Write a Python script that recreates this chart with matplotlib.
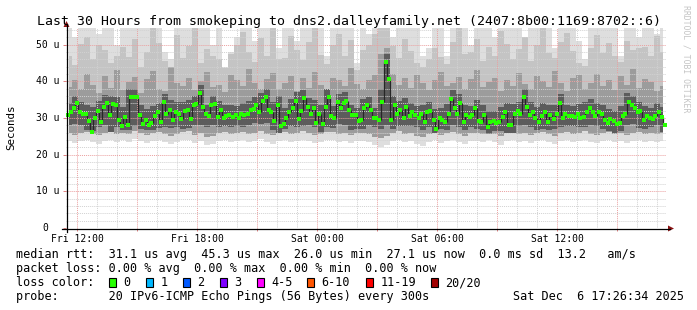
"""SmokePing: Last 30 Hours to dns2.dalleyfamily.net"""
import numpy as np
import matplotlib.pyplot as plt
from matplotlib.lines import Line2D
from matplotlib.patches import Rectangle, Polygon

W, H = 697, 310
MONO = 'DejaVu Sans Mono'

# median rtt (u), one value per 9 minutes
median_rtt = [
    30.8, 31.5, 32.6, 34.0, 31.5, 31.2, 31.0, 29.2, 26.1, 29.9,
    31.9, 29.0, 33.0, 34.0, 30.8, 33.7, 33.4, 29.5, 27.7, 30.3,
    28.1, 35.6, 35.8, 35.6, 30.8, 28.3, 29.5, 28.1, 28.6, 30.6,
    31.5, 29.0, 34.3, 31.0, 32.2, 29.5, 31.5, 31.2, 29.7, 31.9,
    32.2, 29.7, 33.5, 33.7, 36.8, 33.0, 31.0, 30.6, 33.5, 33.7,
    30.3, 32.2, 29.9, 30.6, 30.8, 30.3, 30.8, 29.9, 31.2, 30.8,
    31.2, 32.2, 32.4, 33.4, 31.5, 34.5, 35.6, 32.2, 31.5, 29.2,
    33.5, 27.9, 28.3, 29.9, 31.5, 32.8, 34.7, 29.7, 31.9, 35.4,
    33.0, 31.2, 32.8, 28.6, 31.0, 28.3, 33.0, 35.8, 30.6, 29.9,
    34.3, 32.6, 34.0, 34.7, 32.2, 30.8, 30.8, 29.2, 29.5, 32.8,
    33.4, 32.2, 29.9, 29.9, 29.4, 34.3, 45.3, 40.6, 29.4, 33.5,
    31.0, 32.2, 30.1, 33.0, 30.6, 31.5, 30.8, 30.1, 31.1, 29.0,
    31.7, 31.9, 29.4, 27.0, 29.9, 29.4, 29.0, 31.2, 35.2, 32.6,
    31.0, 34.0, 28.8, 30.8, 30.3, 30.8, 32.6, 29.2, 28.8, 30.8,
    27.6, 28.8, 29.2, 28.6, 28.8, 30.3, 31.5, 28.1, 28.1, 31.2,
    31.9, 31.0, 35.8, 33.0, 30.8, 31.7, 30.1, 28.8, 30.6, 31.5,
    29.0, 30.8, 29.7, 31.0, 34.0, 29.9, 31.0, 30.6, 30.6, 30.3,
    31.2, 29.9, 30.3, 31.7, 32.8, 31.5, 30.6, 31.5, 31.0, 29.4,
    28.6, 29.7, 29.2, 28.3, 28.6, 30.6, 31.0, 34.3, 33.5, 32.8,
    31.5, 31.9, 29.4, 30.6, 30.1, 29.7, 30.6, 31.5, 30.3, 28.1,
]

# smoke bands, one value per 18 minutes
smoke_lo = [
    23.6, 23.2, 23.8, 24.0, 23.4, 23.0, 23.7, 24.1, 23.5, 23.9,
    23.3, 24.2, 23.8, 23.1, 23.6, 24.0, 23.4, 22.8, 23.5, 23.9,
    24.1, 23.2, 23.7, 22.6, 22.9, 23.8, 24.0, 23.3, 23.6, 23.9,
    23.4, 23.8, 24.2, 23.5, 23.0, 23.7, 23.9, 23.3, 23.6, 24.1,
    23.8, 23.2, 23.5, 23.9, 24.0, 23.4, 23.7, 23.1, 23.6, 23.8,
    23.3, 22.5, 22.2, 22.5, 23.6, 24.1, 23.4, 23.8, 23.0, 22.4,
    23.5, 23.9, 23.2, 23.7, 24.0, 23.4, 22.9, 23.6, 23.8, 23.3,
    23.9, 23.5, 22.7, 23.6, 24.0, 23.4, 23.8, 23.2, 23.7, 23.9,
    23.5, 23.0, 23.6, 23.9, 23.3, 23.8, 24.1, 23.5, 23.2, 23.7,
    23.9, 23.4, 23.8, 23.1, 23.6, 24.0, 23.5, 23.8, 23.3, 23.7,
]
smoke_lo2 = [
    25.8, 25.4, 26.0, 26.2, 25.6, 25.3, 25.9, 26.3, 25.7, 26.0,
    25.5, 26.4, 26.0, 25.4, 25.8, 26.1, 25.6, 25.1, 25.7, 26.1,
    26.3, 25.4, 25.9, 24.9, 25.2, 26.0, 26.2, 25.5, 25.8, 26.1,
    25.6, 26.0, 26.4, 25.7, 25.3, 25.9, 26.1, 25.5, 25.8, 26.3,
    26.0, 25.4, 25.7, 26.1, 26.2, 25.6, 25.9, 25.3, 25.8, 26.0,
    25.5, 24.8, 24.6, 25.0, 25.8, 26.3, 25.6, 26.0, 25.2, 24.8,
    25.7, 26.1, 25.4, 25.9, 26.2, 25.6, 25.1, 25.8, 26.0, 25.5,
    26.1, 25.7, 25.0, 25.8, 26.2, 25.6, 26.0, 25.4, 25.9, 26.1,
    25.7, 25.2, 25.8, 26.1, 25.5, 26.0, 26.3, 25.7, 25.4, 25.9,
    26.1, 25.6, 26.0, 25.3, 25.8, 26.2, 25.7, 26.0, 25.5, 25.9,
]
smoke_core_lo = [
    28.0, 28.4, 28.2, 26.8, 26.4, 27.6, 28.0, 26.2, 27.4, 26.8,
    26.6, 27.8, 27.0, 26.8, 26.6, 27.2, 27.4, 27.2, 27.6, 27.0,
    27.2, 28.2, 28.0, 27.4, 28.2, 27.6, 27.8, 27.6, 27.8, 27.4,
    28.0, 28.6, 28.4, 28.6, 26.6, 25.8, 27.0, 27.8, 27.4, 27.8,
    28.0, 27.4, 26.2, 27.6, 27.2, 28.4, 28.0, 26.8, 27.0, 27.0,
    28.0, 27.4, 27.0, 28.0, 27.0, 27.8, 27.8, 27.8, 27.4, 26.8,
    27.4, 25.8, 27.0, 26.8, 28.0, 27.6, 26.6, 27.6, 27.0, 26.6,
    25.6, 26.4, 26.4, 26.0, 26.0, 27.8, 28.0, 27.6, 26.6, 27.0,
    26.8, 27.0, 27.6, 27.8, 27.8, 27.4, 27.6, 28.2, 27.8, 27.0,
    26.4, 26.0, 26.4, 28.2, 28.4, 27.2, 27.0, 27.6, 28.0, 26.2,
]
smoke_core_hi = [
    34.0, 36.0, 34.2, 33.5, 33.0, 34.5, 36.2, 36.0, 35.6, 33.0,
    37.8, 38.0, 33.4, 32.4, 33.2, 34.0, 36.4, 34.8, 34.2, 34.4,
    34.8, 36.0, 39.0, 33.6, 36.0, 34.6, 33.4, 33.6, 33.2, 34.0,
    34.6, 35.8, 36.8, 37.8, 34.2, 36.0, 32.8, 35.2, 37.0, 37.6,
    35.4, 35.0, 33.6, 38.0, 33.2, 36.6, 37.0, 33.4, 32.6, 35.2,
    35.8, 32.6, 38.0, 47.5, 36.0, 34.6, 35.4, 34.0, 33.2, 33.6,
    34.2, 32.4, 32.6, 33.8, 37.6, 36.4, 33.4, 33.2, 35.0, 33.4,
    31.8, 32.0, 33.0, 34.0, 33.8, 34.4, 38.0, 34.2, 33.0, 34.0,
    33.4, 33.6, 36.4, 33.6, 33.2, 33.8, 34.2, 35.2, 34.0, 33.6,
    32.4, 32.0, 33.2, 36.8, 36.0, 34.4, 33.2, 32.8, 34.0, 33.0,
]
smoke_dark_hi = [
    38.5, 40.2, 37.8, 42.0, 39.1, 36.9, 41.5, 38.2, 43.0, 37.5,
    39.8, 41.2, 36.8, 40.5, 42.8, 38.0, 37.2, 44.0, 39.5, 38.8,
    41.0, 37.6, 40.0, 42.5, 38.4, 39.0, 37.0, 41.8, 40.2, 38.6,
    43.2, 39.4, 37.8, 40.6, 42.2, 38.0, 39.6, 41.4, 37.4, 40.8,
    38.2, 42.6, 39.0, 37.6, 41.0, 40.2, 38.8, 43.5, 39.2, 37.8,
    40.4, 41.6, 47.5, 49.0, 42.0, 39.0, 40.8, 38.2, 41.6, 39.4,
    37.6, 40.2, 42.4, 38.8, 39.6, 41.2, 37.8, 40.6, 43.0, 38.4,
    39.8, 41.0, 37.4, 40.4, 38.6, 42.2, 39.2, 37.8, 41.4, 40.0,
    38.4, 42.8, 39.6, 37.2, 40.8, 41.6, 38.0, 39.4, 42.0, 38.8,
    40.2, 37.6, 41.4, 39.0, 43.4, 38.2, 40.6, 39.8, 37.4, 38.6,
]
smoke_mid_hi = [
    47.0, 44.5, 50.2, 52.0, 46.0, 50.0, 48.5, 45.0, 47.0, 49.2,
    46.5, 51.5, 44.0, 48.0, 54.5, 50.5, 45.5, 44.0, 52.5, 46.2,
    49.5, 54.5, 45.0, 48.8, 47.0, 46.0, 43.5, 47.5, 50.0, 53.5,
    48.0, 45.2, 51.8, 47.0, 54.5, 46.0, 46.4, 52.2, 48.6, 45.8,
    50.6, 54.5, 47.2, 44.8, 49.8, 52.8, 46.8, 51.2, 43.0, 48.4,
    50.0, 53.0, 54.5, 54.5, 49.6, 46.2, 51.6, 48.2, 45.0, 44.0,
    46.0, 49.0, 46.6, 44.6, 50.8, 54.5, 47.4, 48.0, 51.4, 45.6,
    49.4, 47.0, 53.6, 50.2, 46.0, 48.8, 52.0, 45.4, 49.8, 54.5,
    47.8, 46.4, 50.6, 53.2, 48.2, 45.0, 44.2, 49.0, 52.6, 47.6,
    50.4, 46.8, 45.2, 51.0, 48.6, 49.0, 49.2, 47.0, 52.2, 48.0,
]
smoke_hi = [
    55.0, 52.0, 55.0, 55.0, 55.0, 53.0, 55.0, 55.0, 50.0, 55.0,
    55.0, 55.0, 55.0, 55.0, 55.0, 55.0, 48.0, 46.0, 55.0, 55.0,
    55.0, 55.0, 55.0, 55.0, 50.0, 55.0, 44.0, 48.0, 52.0, 55.0,
    55.0, 51.0, 55.0, 55.0, 55.0, 49.0, 55.0, 55.0, 51.0, 55.0,
    55.0, 55.0, 55.0, 47.0, 55.0, 55.0, 55.0, 55.0, 45.0, 55.0,
    53.0, 55.0, 55.0, 55.0, 52.0, 55.0, 55.0, 55.0, 55.0, 47.0,
    49.0, 55.0, 55.0, 47.0, 55.0, 55.0, 55.0, 50.0, 55.0, 55.0,
    55.0, 52.0, 55.0, 55.0, 55.0, 55.0, 52.0, 55.0, 55.0, 55.0,
    55.0, 49.0, 55.0, 55.0, 55.0, 51.0, 46.0, 55.0, 55.0, 55.0,
    55.0, 55.0, 47.0, 55.0, 55.0, 52.0, 55.0, 55.0, 53.0, 55.0,
]

tick_hours = [12, 18, 24, 30, 36]
tick_labels = ['Fri 12:00', 'Fri 18:00', 'Sat 00:00', 'Sat 06:00', 'Sat 12:00']
y_ticks = [0, 10, 20, 30, 40, 50]
y_labels = ['0', '10 u', '20 u', '30 u', '40 u', '50 u']

loss_labels = ['0', '1', '2', '3', '4-5', '6-10', '11-19', '20/20']
loss_colors = ['#26ff00', '#00b8ff', '#0059ff', '#7e00ff',
               '#ff00ff', '#ff5500', '#ff0000', '#a10000']

legend_rtt = 'median rtt:  31.1 us avg  45.3 us max  26.0 us min  27.1 us now  0.0 ms sd  13.2   am/s'
legend_loss = 'packet loss: 0.00 % avg  0.00 % max  0.00 % min  0.00 % now'
legend_probe = 'probe:       20 IPv6-ICMP Echo Pings (56 Bytes) every 300s'
stamp = 'Sat Dec  6 17:26:34 2025'
title = 'Last 30 Hours from smokeping to dns2.dalleyfamily.net (2407:8b00:1169:8702::6)'

# time axis in hours since Fri 00:00
t_end = 24 + 17 + 26 / 60 + 34 / 3600
t_start = t_end - 30


def fx(x):
    return x / W


def fy(y):
    return 1 - y / H


fig = plt.figure(figsize=(W / 100, H / 100), dpi=100)
fig.patch.set_facecolor('white')
ax = fig.add_axes([fx(66), fy(228), 600 / W, 200 / H])
for s in ax.spines.values():
    s.set_visible(False)

n_med = len(median_rtt)
n_smk = len(smoke_hi)
step_med = 30 / n_med
t_med = t_start + (np.arange(n_med) + 0.5) * step_med
t_smk = t_start + (np.arange(n_smk) + 0.5) * 30 / n_smk

ax.fill_between(t_smk, smoke_lo, smoke_hi, step='mid', color='#dedede', lw=0, zorder=1)
ax.fill_between(t_smk, smoke_lo2, smoke_mid_hi, step='mid', color='#c4c4c4', lw=0, zorder=1.1)
ax.fill_between(t_smk, smoke_lo2, smoke_dark_hi, step='mid', color='#9c9c9c', lw=0, zorder=1.2)
ax.fill_between(t_smk, smoke_core_lo, smoke_core_hi, step='mid', color='#5c5c5c', lw=0, zorder=1.3)

# dark vertical connectors between consecutive medians, green median marks
med = np.array(median_rtt)
ax.vlines(t_med[:-1] + step_med / 2, np.minimum(med[:-1], med[1:]), np.maximum(med[:-1], med[1:]),
          color='#262626', lw=0.9, zorder=3)
ax.scatter(t_med, med, marker='s', s=6, color='#26ff00', lw=0, zorder=4)

ax.set_xlim(t_start, t_end)
ax.set_ylim(0, 54.5)

# grid: minor every hour / 2 u, major every 3 h / 10 u
ax.set_xticks(np.arange(12, 40, 3))
ax.set_xticks(np.arange(12, 42, 1), minor=True)
ax.set_yticks(y_ticks)
ax.set_yticks(np.arange(0, 55, 2), minor=True)
ax.set_axisbelow(False)
ax.grid(which='minor', color='#d2d2d2', linestyle=(0, (1, 1)), linewidth=0.7)
ax.grid(which='major', color='#eba0a0', linestyle=(0, (1, 1)), linewidth=0.7)
ax.set_xticklabels([tick_labels[tick_hours.index(h)] if h in tick_hours else ''
                    for h in range(12, 40, 3)], fontfamily=MONO, fontsize=7)
ax.set_yticklabels([])
ax.tick_params(axis='x', which='major', length=2.5, width=0.7, color='#e08080', pad=1.5)
ax.tick_params(axis='y', which='major', length=2.5, width=0.7, color='#e08080')
ax.tick_params(which='minor', length=0)

ytr = ax.get_yaxis_transform()
for v, lab in zip(y_ticks, y_labels):
    xr = -(66 - 48.5) / 600 if lab == '0' else -(66 - 59.5) / 600
    ax.text(xr, v, lab, transform=ytr, ha='right', va='center',
            fontfamily=MONO, fontsize=7)

# axis lines with arrows
fig.add_artist(Line2D([fx(62), fx(670)], [fy(228.5), fy(228.5)], color='black', lw=0.9))
fig.add_artist(Line2D([fx(66.5), fx(66.5)], [fy(232), fy(24)], color='black', lw=0.9))
fig.add_artist(Polygon([[fx(668), fy(225.5)], [fx(668), fy(231.5)], [fx(674), fy(228.5)]],
                       closed=True, color='#8b1414', lw=0))
fig.add_artist(Polygon([[fx(63.5), fy(27)], [fx(69.5), fy(27)], [fx(66.5), fy(21)]],
                       closed=True, color='#8b1414', lw=0))

fig.text(fx(37), fy(24.5), title, fontfamily=MONO, fontsize=9.5, va='baseline')
fig.text(fx(11), fy(127), 'Seconds', rotation=90, ha='center', va='center',
         fontfamily=MONO, fontsize=7.8)
fig.text(fx(686), fy(59), 'RRDTOOL / TOBI OETIKER', rotation=270, ha='center', va='center',
         fontfamily=MONO, fontsize=5.9, color='#c4c4c4')

fig.text(fx(16), fy(258), legend_rtt, fontfamily=MONO, fontsize=8.5, va='baseline')
fig.text(fx(16), fy(272), legend_loss, fontfamily=MONO, fontsize=8.5, va='baseline')
fig.text(fx(16), fy(286), 'loss color:', fontfamily=MONO, fontsize=8.5, va='baseline')
fig.text(fx(16), fy(300), legend_probe, fontfamily=MONO, fontsize=8.5, va='baseline')
fig.text(fx(513), fy(300), stamp, fontfamily=MONO, fontsize=8.5, va='baseline')

box_x = [108.7, 145.7, 182.7, 219.7, 256.7, 306.7, 365.7, 430.7]
for bx, lab, col in zip(box_x, loss_labels, loss_colors):
    fig.add_artist(Rectangle((fx(bx), fy(286.5)), 7.5 / W, 8.5 / H, facecolor=col,
                             edgecolor='black', lw=0.8))
    fig.text(fx(bx + 14.6), fy(286), lab, fontfamily=MONO, fontsize=8.5, va='baseline')

fig.savefig('out.png', dpi=100, facecolor='white')
